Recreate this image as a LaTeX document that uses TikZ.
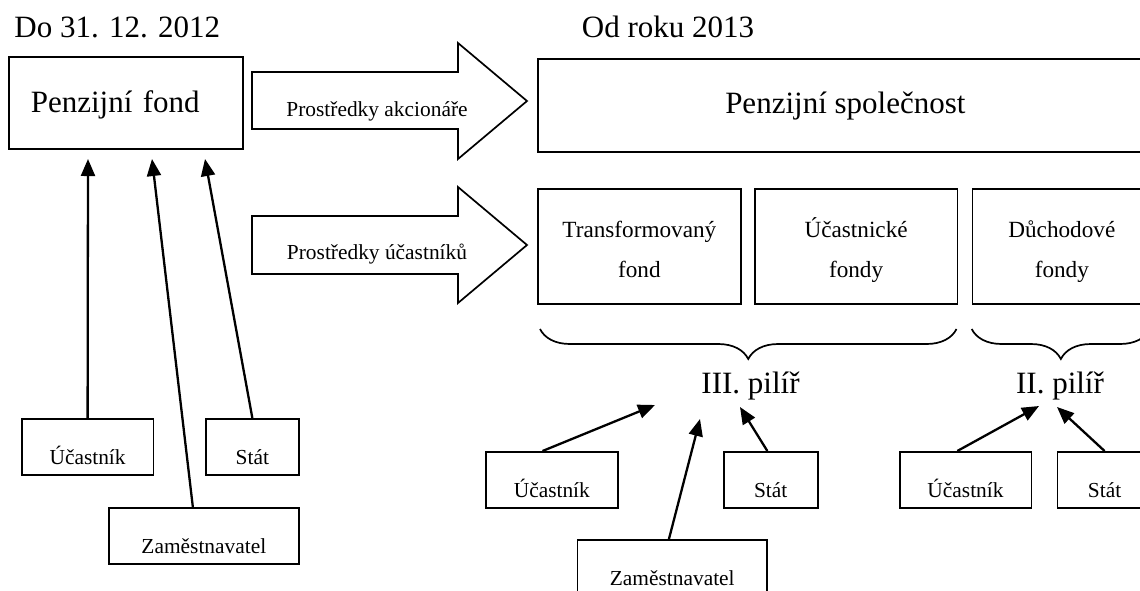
\documentclass[tikz,border=0pt]{standalone}
\usepackage{fontspec}
\setmainfont{Liberation Serif}
\usetikzlibrary{arrows.meta, decorations.pathreplacing}
\tikzset{>={Triangle[length=8.5pt, width=7pt]}}
\tikzset{
  big/.style={font=\fontsize{15.5}{18}\selectfont},
  small/.style={font=\fontsize{10.7}{13}\selectfont},
  bigbox/.style={draw, line width=0.85pt, inner sep=0pt, big},
  fundbox/.style={draw, line width=0.85pt, inner sep=0pt, align=center,
    font=\fontsize{11.6}{20}\selectfont, text height=44.5pt, text depth=13pt},
  smallbox/.style={draw, line width=0.85pt, inner sep=0pt, small,
    text height=23pt, text depth=5pt},
  blockarrow/.style={draw, line width=0.85pt, line join=miter},
  feed/.style={->, line width=1.15pt},
  pilirbrace/.style={decorate, decoration={brace, mirror, amplitude=15pt}, line width=0.85pt}
}

\begin{document}
\begin{tikzpicture}[x=0.5pt, y=-0.5pt]
\useasboundingbox (0,0) rectangle (1140,590);
% headings
\node[big, anchor=base west, inner sep=0pt] (do) at (14,37) {Do 31. 12. 2012};
\node[big, anchor=base west, inner sep=0pt] (od) at (581.5,37) {Od roku 2013};
% before 2013
\node[bigbox, anchor=north west, text width=95pt, align=left, inner xsep=11pt,
  text height=28pt, text depth=18pt] (pf) at (8,56) {Penzijní fond};
\node[smallbox, anchor=north west, minimum width=65.75pt] (u1) at (21,418) {Účastník};
\node[smallbox, anchor=north west, minimum width=46.5pt] (s1) at (205,418) {Stát};
\node[smallbox, anchor=north west, minimum width=95pt] (z1) at (108,507) {Zaměstnavatel};
\coordinate (pfa) at (88,159);
\coordinate (pfb) at (152,159);
\coordinate (pfc) at (205,159);
\draw[feed] (u1.north) -- (pfa);
\draw[feed] ([xshift=-5.5pt]z1.north) -- (pfb);
\draw[feed] (s1.north) -- (pfc);
% block arrows
\draw[blockarrow] (252,72) -- (458,72) -- (458,43) -- (527,101) -- (458,159) -- (458,129) -- (252,129) -- cycle;
\node[small, anchor=base, inner sep=0pt] (pa) at (377,116) {Prostředky akcionáře};
\draw[blockarrow] (252,216) -- (458,216) -- (458,187) -- (527,245) -- (458,303) -- (458,274) -- (252,274) -- cycle;
\node[small, anchor=base, inner sep=0pt] (pu) at (377,259) {Prostředky účastníků};
% from 2013
\node[bigbox, anchor=north west, minimum width=307.5pt, text height=27.5pt, text depth=19pt] (ps) at (537,58) {Penzijní společnost};
\node[fundbox, anchor=north west, minimum width=101.5pt] (tf) at (537,188) {Transformovaný\\fond};
\node[fundbox, anchor=north west, minimum width=101.25pt] (uf) at (754,188) {Účastnické\\fondy};
\node[fundbox, anchor=north west, minimum width=89.3pt] (df) at (971.7,188) {Důchodové\\fondy};
\draw[pilirbrace] (540,329) -- (956.5,329);
\draw[pilirbrace] (971.7,329) -- (1150,329);
\node[big, anchor=base, inner sep=0pt] (p3) at (750.5,393) {III. pilíř};
\node[big, anchor=base, inner sep=0pt] (p2) at (1060,393) {II. pilíř};
% III. pilir
\node[smallbox, anchor=north west, minimum width=66pt] (u2) at (485,451) {Účastník};
\node[smallbox, anchor=north west, minimum width=47pt] (s2) at (722.8,451) {Stát};
\node[smallbox, anchor=north west, minimum width=94.7pt] (z2) at (576.7,539) {Zaměstnavatel};
\coordinate (p3a) at (655,405);
\coordinate (p3b) at (700,419);
\coordinate (p3c) at (740,407);
\draw[feed] ([xshift=-4.65pt]u2.north) -- (p3a);
\draw[feed] ([xshift=-1.65pt]z2.north) -- (p3b);
\draw[feed] ([xshift=-1.65pt]s2.north) -- (p3c);
% II. pilir
\node[smallbox, anchor=north west, minimum width=65.85pt] (u3) at (898.8,451) {Účastník};
\node[smallbox, anchor=north west, minimum width=47pt] (s3) at (1056.7,451) {Stát};
\coordinate (p2a) at (1039,406);
\coordinate (p2b) at (1057,407);
\draw[feed] ([xshift=-4.1pt]u3.north) -- (p2a);
\draw[feed] (s3.north) -- (p2b);
\end{tikzpicture}
\end{document}
